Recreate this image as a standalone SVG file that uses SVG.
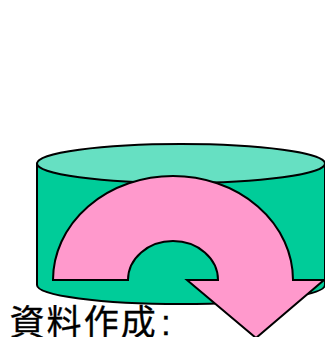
<svg xmlns="http://www.w3.org/2000/svg" width="325" height="337" viewBox="0 0 325 337">
<style>
.s{stroke:#000;stroke-width:2;stroke-linejoin:miter}
.t{font-family:"Liberation Sans","Noto Sans CJK JP",sans-serif;font-size:35px;letter-spacing:2.100px;fill:#000;stroke:#000;stroke-width:.3px}
</style>
<rect width="325" height="337" fill="#fff"/>
<g id="cylinder">
<path class="s" fill="#00cc99" d="M37 163.500V285C37 295.500 101 304 181 304S325 295.500 325 285V163.500Z"/>
<ellipse class="s" fill="#66e0c2" cx="181" cy="163.500" rx="144" ry="19.500"/>
</g>
<g id="arrow">
<path class="s" fill="#ff99cc" d="M53 280A120 104 0 0 1 293 280H324L256 338L187 280H218A45 39 0 0 0 128 280Z"/>
</g>
<g id="label">
<text class="t" x="9.500" y="334.500">資料作成<tspan dx="3">:</tspan></text>
</g>
</svg>
